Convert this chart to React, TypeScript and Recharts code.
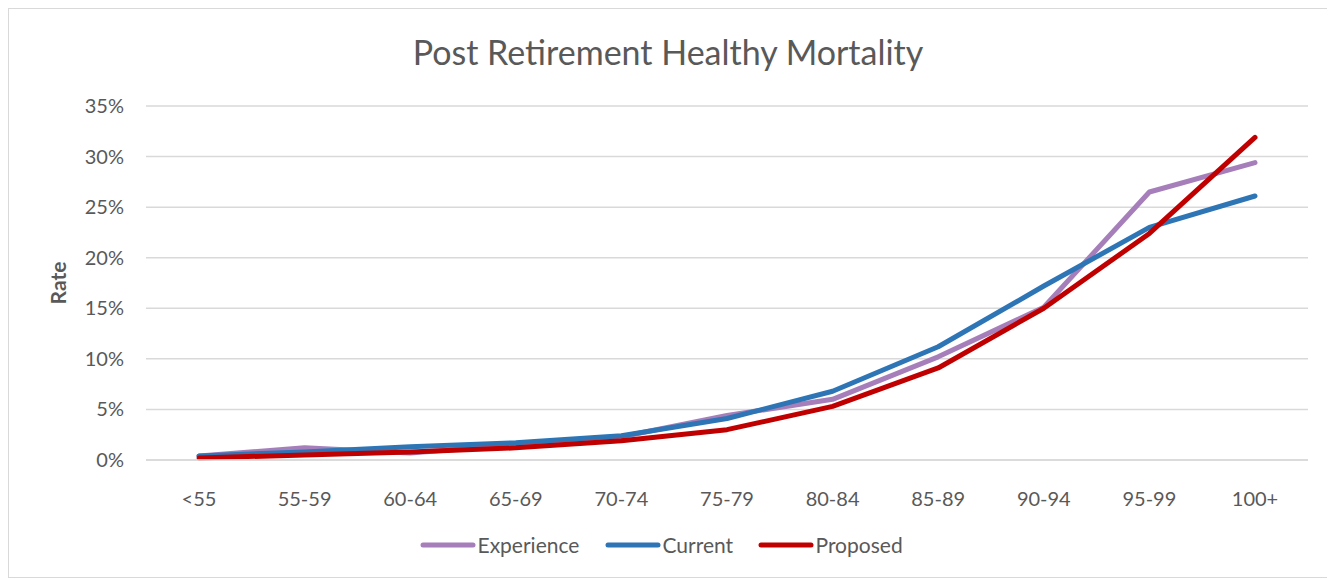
import React from "react";
import { LineChart, Line, XAxis, YAxis, CartesianGrid, Legend } from "recharts";

const categories = ["<55", "55-59", "60-64", "65-69", "70-74", "75-79", "80-84", "85-89", "90-94", "95-99", "100+"];
const experience = [0.4, 1.2, 0.7, 1.5, 2.3, 4.4, 6.0, 10.2, 15.1, 26.5, 29.4];
const current = [0.4, 0.8, 1.3, 1.7, 2.4, 4.1, 6.8, 11.2, 17.2, 23.0, 26.1];
const proposed = [0.2, 0.5, 0.8, 1.2, 1.9, 3.0, 5.3, 9.1, 15.0, 22.4, 31.9];
const yTicks = [0, 5, 10, 15, 20, 25, 30, 35];

const data = categories.map((c, i) => ({
  cat: c,
  Experience: experience[i],
  Current: current[i],
  Proposed: proposed[i],
}));

const FONT = "Lato, 'Open Sans', sans-serif";
const TEXT = "#595959";

const series = [
  { key: "Experience", color: "#A67FBA", w: 185 },
  { key: "Current", color: "#2E75B6", w: 153 },
  { key: "Proposed", color: "#C00000", w: 170 },
];

const YTick = (props: any) => {
  const { x, y, payload } = props;
  return (
    <text x={x - 14} y={y} dy={7} textAnchor="end" fontSize={20} fill={TEXT} fontFamily={FONT}>
      {payload.value}%
    </text>
  );
};

const XTick = (props: any) => {
  const { x, y, payload } = props;
  return (
    <text x={x} y={y} dy={38} textAnchor="middle" fontSize={20} fill={TEXT} fontFamily={FONT}>
      {payload.value}
    </text>
  );
};

const LegendContent = () => (
  <div style={{ display: "flex", justifyContent: "center", alignItems: "center", fontFamily: FONT, fontSize: 21, color: TEXT, paddingLeft: 30 }}>
    {series.map((s) => (
      <div key={s.key} style={{ display: "flex", alignItems: "center", width: s.w }}>
        <svg width={56} height={10}>
          <line x1={3} y1={5} x2={53} y2={5} stroke={s.color} strokeWidth={5} strokeLinecap="round" />
        </svg>
        <span style={{ marginLeft: 2 }}>{s.key}</span>
      </div>
    ))}
  </div>
);

export default function App() {
  return (
    <div style={{ width: 1318, height: 568, border: "1px solid #D9D9D9", position: "relative", background: "#fff" }}>
      <div
        style={{
          position: "absolute",
          top: 22,
          left: 0,
          width: "100%",
          textAlign: "center",
          fontFamily: FONT,
          fontSize: 34,
          color: TEXT,
        }}
      >
        Post Retirement Healthy Mortality
      </div>
      <LineChart width={1318} height={568} data={data} margin={{ top: 97, right: 19, bottom: 0, left: 0 }}>
        <CartesianGrid vertical={false} stroke="#D9D9D9" strokeWidth={1.5} />
        <XAxis
          dataKey="cat"
          axisLine={{ stroke: "#D9D9D9", strokeWidth: 1.5 }}
          tickLine={false}
          tick={<XTick />}
          height={92}
          interval={0}
          padding={{ left: 53, right: 53 }}
        />
        <YAxis
          width={137}
          domain={[0, 35]}
          ticks={yTicks}
          axisLine={false}
          tickLine={false}
          tick={<YTick />}
          label={{
            value: "Rate",
            angle: -90,
            position: "insideLeft",
            offset: 50,
            style: { fontFamily: FONT, fontSize: 21, fontWeight: "bold", fill: TEXT, textAnchor: "middle" },
          }}
        />
        {series.map((s) => (
          <Line
            key={s.key}
            type="linear"
            dataKey={s.key}
            stroke={s.color}
            strokeWidth={5}
            dot={false}
            activeDot={false}
            strokeLinecap="round"
            strokeLinejoin="round"
            isAnimationActive={false}
          />
        ))}
        <Legend content={<LegendContent />} verticalAlign="bottom" wrapperStyle={{ bottom: 20 }} />
      </LineChart>
    </div>
  );
}
